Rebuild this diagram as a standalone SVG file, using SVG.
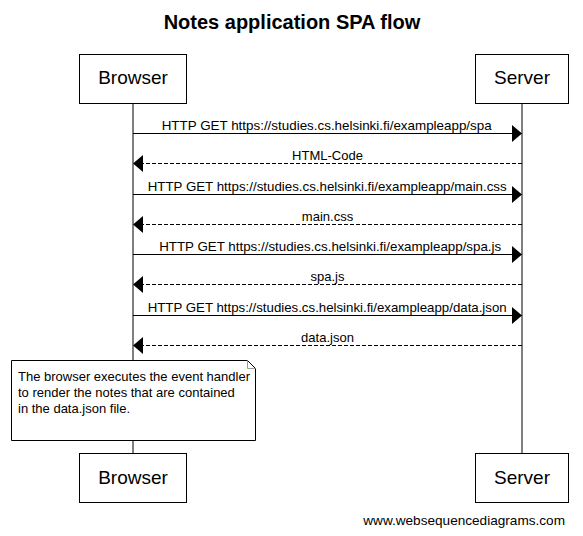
<svg xmlns="http://www.w3.org/2000/svg" width="583" height="536" viewBox="0 0 583 536">
<style>
  text { font-family: "Liberation Sans", Arial, sans-serif; fill: #000; }
  .title { font-size: 20px; font-weight: bold; text-anchor: middle; }
  .actor rect { fill: #fff; stroke: #000; stroke-width: 1; }
  .actor text { font-size: 19px; text-anchor: middle; }
  .life { stroke: #000; stroke-width: 1; }
  .msg { stroke: #000; stroke-width: 1; fill: none; }
  .ret { stroke-dasharray: 4 2; }
  .lbl { font-size: 13px; text-anchor: middle; }
  .note text { font-size: 13px; }
  .wm { font-size: 13.6px; text-anchor: end; }
</style>
<defs>
  <marker id="ah" markerWidth="10" markerHeight="18" refX="10" refY="9" orient="auto" markerUnits="userSpaceOnUse">
    <path d="M0,0.5 L10,9 L0,17.5 Z" fill="#000"/>
  </marker>
</defs>
<rect width="583" height="536" fill="#fff"/>
<text class="title" x="292" y="29">Notes application SPA flow</text>
<g id="lifelines">
  <line class="life" x1="133" y1="103" x2="133" y2="453"/>
  <line class="life" x1="522" y1="103" x2="522" y2="453"/>
</g>
<g id="browser-top" class="actor"><rect x="79.5" y="54.5" width="107" height="49"/><text x="133" y="84">Browser</text></g>
<g id="server-top" class="actor"><rect x="475.5" y="54.5" width="93" height="49"/><text x="522" y="84">Server</text></g>
<g id="connectors">
  <line class="msg" x1="133" y1="133.5" x2="522" y2="133.5" marker-end="url(#ah)"/>
  <text class="lbl" x="326.7" y="130" textLength="330" lengthAdjust="spacingAndGlyphs">HTTP GET https://studies.cs.helsinki.fi/exampleapp/spa</text>
  <line class="msg ret" x1="522" y1="163.5" x2="133" y2="163.5" marker-end="url(#ah)"/>
  <text class="lbl" x="327.5" y="160">HTML-Code</text>
  <line class="msg" x1="133" y1="194.5" x2="522" y2="194.5" marker-end="url(#ah)"/>
  <text class="lbl" x="327.2" y="191" textLength="359" lengthAdjust="spacingAndGlyphs">HTTP GET https://studies.cs.helsinki.fi/exampleapp/main.css</text>
  <line class="msg ret" x1="522" y1="224.5" x2="133" y2="224.5" marker-end="url(#ah)"/>
  <text class="lbl" x="327.5" y="221">main.css</text>
  <line class="msg" x1="133" y1="254.5" x2="522" y2="254.5" marker-end="url(#ah)"/>
  <text class="lbl" x="330.2" y="251" textLength="342" lengthAdjust="spacingAndGlyphs">HTTP GET https://studies.cs.helsinki.fi/exampleapp/spa.js</text>
  <line class="msg ret" x1="522" y1="284.5" x2="133" y2="284.5" marker-end="url(#ah)"/>
  <text class="lbl" x="327.5" y="281">spa.js</text>
  <line class="msg" x1="133" y1="315.5" x2="522" y2="315.5" marker-end="url(#ah)"/>
  <text class="lbl" x="327.2" y="312" textLength="359" lengthAdjust="spacingAndGlyphs">HTTP GET https://studies.cs.helsinki.fi/exampleapp/data.json</text>
  <line class="msg ret" x1="522" y1="345.5" x2="133" y2="345.5" marker-end="url(#ah)"/>
  <text class="lbl" x="327.5" y="342">data.json</text>
</g>
<g id="note" class="note">
  <path d="M11.5,360.5 H247.5 L255.5,368.5 V440.5 H11.5 Z" fill="#fff" stroke="#000"/>
  <path d="M247.5,360.5 V368.5 H255.5" fill="none" stroke="#999"/>
  <text x="18" y="381">The browser executes the event handler</text>
  <text x="18" y="397">to render the notes that are contained</text>
  <text x="18" y="413">in the data.json file.</text>
</g>
<g id="browser-bottom" class="actor"><rect x="79.5" y="453.5" width="107" height="49"/><text x="133" y="484">Browser</text></g>
<g id="server-bottom" class="actor"><rect x="475.5" y="453.5" width="93" height="49"/><text x="522" y="484">Server</text></g>
<text class="wm" x="565" y="525">www.websequencediagrams.com</text>
</svg>
